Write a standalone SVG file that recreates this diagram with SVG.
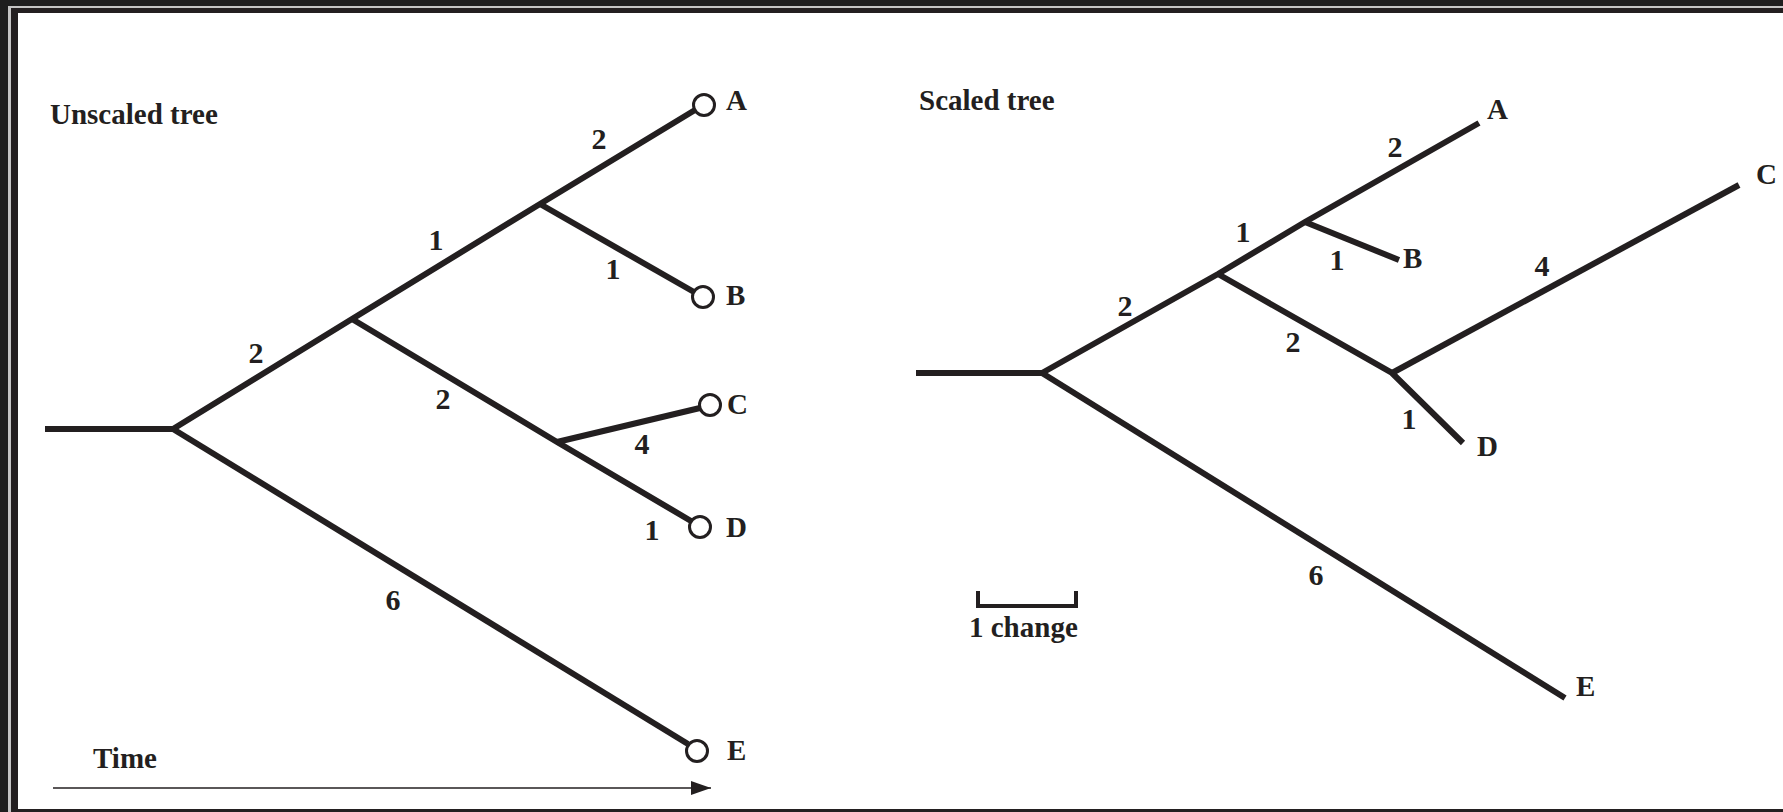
<svg xmlns="http://www.w3.org/2000/svg" width="1783" height="812" viewBox="0 0 1783 812">
<style>
.br{stroke:#231f20;stroke-width:6;fill:none;stroke-linecap:butt;stroke-linejoin:miter}
.tip{stroke:#231f20;stroke-width:3;fill:#fff}
.t{font-family:"Liberation Serif","Times New Roman",serif;font-weight:bold;font-size:29px;fill:#231f20}
.n{font-family:"Liberation Serif","Times New Roman",serif;font-weight:bold;font-size:30px;fill:#231f20;text-anchor:middle}
.l{font-family:"Liberation Serif","Times New Roman",serif;font-weight:bold;font-size:29px;fill:#231f20}
</style>
<defs>
<marker id="arr" viewBox="0 0 20 14" refX="20" refY="7" markerWidth="20" markerHeight="14" markerUnits="userSpaceOnUse" orient="auto">
<path d="M0,0 L20,7 L0,14 Z" fill="#231f20"/>
</marker>
</defs>
<g id="frame">
<rect x="0" y="0" width="1783" height="812" fill="#1e1e1e"/>
<rect x="8" y="6" width="1775" height="806" fill="#c4c4c4"/>
<rect x="11" y="8" width="1772" height="804" fill="#231f20"/>
<rect x="18" y="13" width="1765" height="796" fill="#ffffff"/>
</g>
<g id="titles">
<text class="t" x="50" y="124">Unscaled tree</text>
<text class="t" x="919" y="110">Scaled tree</text>
<text class="t" x="93" y="768">Time</text>
</g>
<g id="connectors">
<line class="br" x1="45" y1="429" x2="173" y2="429"/>
<polyline class="br" points="173,429 352,319 540,204 695,110"/>
<line class="br" x1="540" y1="204" x2="694" y2="292"/>
<polyline class="br" points="352,319 557,442 691,521"/>
<line class="br" x1="557" y1="442" x2="700" y2="408"/>
<line class="br" x1="173" y1="429" x2="688" y2="744"/>
<line class="br" x1="916" y1="373" x2="1042" y2="373"/>
<polyline class="br" points="1042,373 1218,274 1305,222 1479,123"/>
<line class="br" x1="1305" y1="222" x2="1399" y2="260"/>
<polyline class="br" points="1218,274 1392,373 1463,443"/>
<line class="br" x1="1392" y1="373" x2="1739" y2="185"/>
<line class="br" x1="1042" y1="373" x2="1565" y2="698"/>
<line x1="53" y1="788" x2="711" y2="788" stroke="#231f20" stroke-width="1.5" marker-end="url(#arr)"/>
<polyline points="978,591 978,606 1076,606 1076,591" fill="none" stroke="#231f20" stroke-width="4"/>
</g>
<g id="left-A"><circle class="tip" cx="704" cy="105" r="10.5"/><text class="l" x="726" y="110">A</text></g>
<g id="left-B"><circle class="tip" cx="703" cy="297" r="10.5"/><text class="l" x="726" y="305">B</text></g>
<g id="left-C"><circle class="tip" cx="710" cy="405" r="10.5"/><text class="l" x="727" y="414">C</text></g>
<g id="left-D"><circle class="tip" cx="700" cy="527" r="10.5"/><text class="l" x="726" y="537">D</text></g>
<g id="left-E"><circle class="tip" cx="697" cy="751" r="10.5"/><text class="l" x="727" y="760">E</text></g>
<g id="left-labels">
<text class="n" x="599" y="149">2</text>
<text class="n" x="436" y="250">1</text>
<text class="n" x="256" y="363">2</text>
<text class="n" x="613" y="279">1</text>
<text class="n" x="443" y="409">2</text>
<text class="n" x="642" y="454">4</text>
<text class="n" x="652" y="540">1</text>
<text class="n" x="393" y="610">6</text>
</g>
<g id="right-A"><text class="l" x="1487" y="119">A</text></g>
<g id="right-B"><text class="l" x="1403" y="268">B</text></g>
<g id="right-C"><text class="l" x="1756" y="184">C</text></g>
<g id="right-D"><text class="l" x="1477" y="456">D</text></g>
<g id="right-E"><text class="l" x="1576" y="696">E</text></g>
<g id="right-labels">
<text class="n" x="1395" y="157">2</text>
<text class="n" x="1243" y="242">1</text>
<text class="n" x="1337" y="270">1</text>
<text class="n" x="1125" y="316">2</text>
<text class="n" x="1293" y="352">2</text>
<text class="n" x="1542" y="276">4</text>
<text class="n" x="1409" y="429">1</text>
<text class="n" x="1316" y="585">6</text>
</g>
<g id="scale-label"><text class="t" x="969" y="637">1 change</text></g>
</svg>
